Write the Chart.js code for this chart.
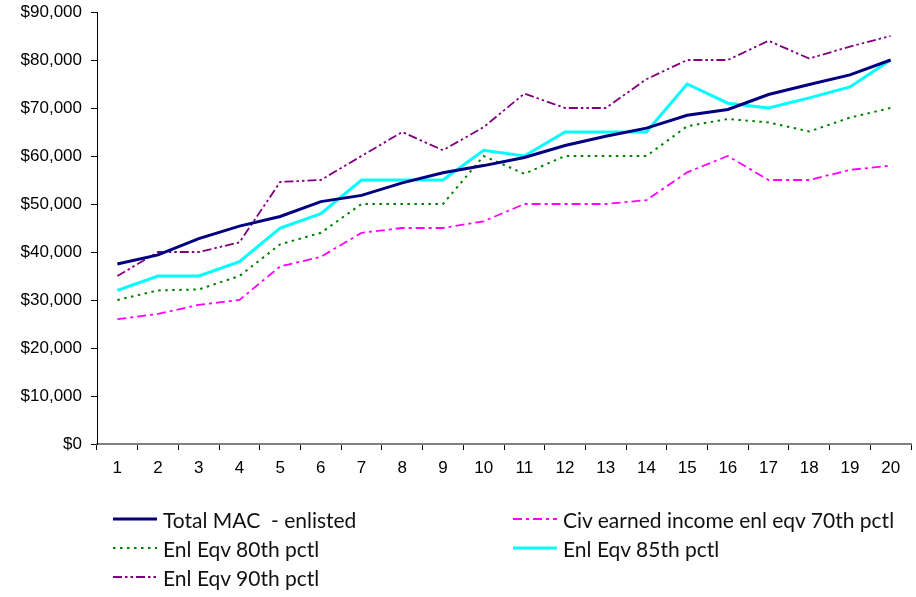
<!DOCTYPE html>
<html>
<head>
<meta charset="utf-8">
<script src="https://cdn.jsdelivr.net/npm/chart.js@4/dist/chart.umd.min.js"></script>
<style>
  html, body { margin: 0; padding: 0; background: #fff; }
  #wrap { position: relative; width: 916px; height: 597px; background: #fff; }
  #chart { position: absolute; left: 0; top: 0; }
  .lg-item { position: absolute; display: flex; align-items: center; height: 28px;
             font-family: Lato, "Liberation Sans", sans-serif; font-size: 21px; color: #111;
             white-space: pre; }
  .lg-item svg { flex: none; margin-right: 6px; }
</style>
</head>
<body>
<div id="wrap">
  <canvas id="chart" width="916" height="597"></canvas>
  <div id="legend"></div>
</div>
<script>
// Years of service
const years = ['1','2','3','4','5','6','7','8','9','10','11','12','13','14','15','16','17','18','19','20'];

// Annual compensation, dollars
const totalMac = [37500, 39400, 42800, 45400, 47400, 50500, 51800, 54400, 56500, 58000,
                  59700, 62200, 64100, 65800, 68500, 69700, 72800, 74900, 76900, 80000];
const civ70    = [26000, 27100, 29000, 30000, 37000, 39000, 44000, 45000, 45000, 46400,
                  50000, 50000, 50000, 50800, 56600, 60000, 55000, 55000, 57100, 58000];
const enl80    = [30000, 32000, 32200, 35000, 41600, 44000, 50000, 50000, 50000, 60000,
                  56300, 60000, 60000, 60000, 66200, 67700, 67000, 65100, 68000, 70000];
const enl85    = [32000, 35000, 35000, 38000, 45000, 48000, 55000, 55000, 55000, 61200,
                  60000, 65000, 65000, 65000, 75000, 71000, 70000, 72100, 74400, 80000];
const enl90    = [35000, 40000, 40000, 42000, 54600, 55000, 60000, 65000, 61200, 66000,
                  73000, 70000, 70000, 76000, 80000, 80000, 84000, 80300, 82800, 85000];

// Dollar axis
const yMin = 0, yMax = 90000, yStep = 10000;

const seriesNames = ['Total MAC  - enlisted', 'Civ earned income enl eqv 70th pctl',
                     'Enl Eqv 80th pctl', 'Enl Eqv 85th pctl', 'Enl Eqv 90th pctl'];

const tickFont = { family: '"Liberation Sans", sans-serif', size: 17 };

function line(label, data, color, width, dash) {
  return { label, data, borderColor: color, backgroundColor: color, borderWidth: width,
           borderDash: dash, pointRadius: 0, pointHoverRadius: 0, tension: 0, fill: false,
           borderCapStyle: 'butt', borderJoinStyle: 'miter' };
}

const chart = new Chart(document.getElementById('chart'), {
  type: 'line',
  data: {
    labels: years,
    datasets: [
      line(seriesNames[0], totalMac, '#000080', 3, []),
      line(seriesNames[1], civ70, '#FF00FF', 1.8, [9, 4, 3, 4]),
      line(seriesNames[2], enl80, '#008000', 2, [2.5, 4.5]),
      line(seriesNames[3], enl85, '#00FFFF', 3, []),
      line(seriesNames[4], enl90, '#800080', 1.8, [9, 3, 2.5, 3, 2.5, 3])
    ]
  },
  options: {
    responsive: false,
    animation: false,
    layout: { padding: { left: 0, top: 12, right: 5, bottom: 113 } },
    plugins: { legend: { display: false }, tooltip: { enabled: false } },
    scales: {
      x: {
        type: 'category',
        offset: true,
        grid: { offset: true, drawOnChartArea: false, drawTicks: true, tickLength: 6,
                color: '#000', lineWidth: 1 },
        border: { display: true, color: '#808080', width: 2 },
        ticks: { font: tickFont, color: '#000', padding: 8, maxRotation: 0, autoSkip: false },
        afterFit: s => { s.height = 40; }
      },
      y: {
        min: yMin, max: yMax,
        grid: { drawOnChartArea: false, drawTicks: true, tickLength: 6, color: '#000', lineWidth: 1 },
        border: { display: true, color: '#000', width: 1 },
        ticks: { stepSize: yStep, font: tickFont, color: '#000', padding: 9,
                 callback: v => '$' + Number(v).toLocaleString('en-US') },
        afterFit: s => { s.width = 97; s.paddingTop = 10; s.paddingBottom = 10; }
      }
    }
  }
});

// Two-column legend below the plot, built from the dataset styles
const legend = document.getElementById('legend');
const colX = [113, 513];
const rowY = [505, 534, 563];
chart.data.datasets.forEach((ds, i) => {
  const item = document.createElement('div');
  item.className = 'lg-item';
  item.style.left = colX[i % 2] + 'px';
  item.style.top = rowY[Math.floor(i / 2)] + 'px';
  const dash = (ds.borderDash && ds.borderDash.length) ? ds.borderDash.join(' ') : 'none';
  item.innerHTML =
    '<svg width="44" height="10"><line x1="0" y1="5" x2="44" y2="5" stroke="' + ds.borderColor +
    '" stroke-width="' + ds.borderWidth + '" stroke-dasharray="' + dash + '"/></svg>';
  const txt = document.createElement('span');
  txt.textContent = ds.label;
  item.appendChild(txt);
  legend.appendChild(item);
});
</script>
</body>
</html>
